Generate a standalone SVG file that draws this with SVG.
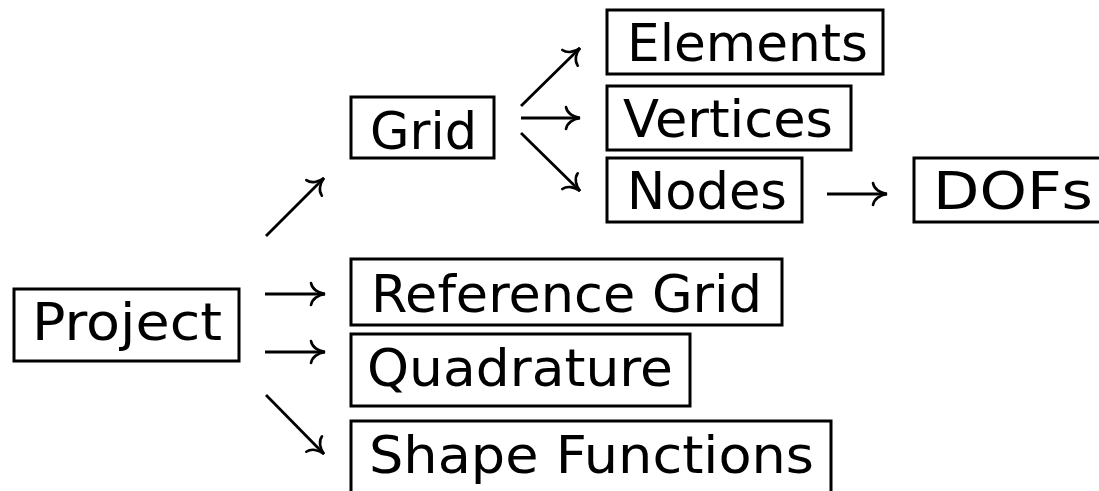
<svg xmlns="http://www.w3.org/2000/svg" width="1099" height="491" viewBox="0 0 1099 491">
<style>
  rect.box { fill: none; stroke: #000; stroke-width: 3; }
  text.lbl { font-family: "DejaVu Sans", "Liberation Sans", sans-serif; font-size: 52px; fill: #000; }
  .conn line { stroke: #000; stroke-width: 2.8; fill: none; marker-end: url(#hd); }
</style>
<defs>
  <marker id="hd" markerUnits="userSpaceOnUse" markerWidth="30" markerHeight="30" refX="0" refY="0" orient="auto" overflow="visible">
    <path d="M-14,-11 C-13,-5 -7,-1 0,0 C-7,1 -13,5 -14,11" fill="none" stroke="#000" stroke-width="2.6" stroke-linecap="round"/>
  </marker>
</defs>
<rect width="1099" height="491" fill="#fff"/>

<g id="project">
  <rect class="box" x="14" y="289" width="225" height="72"/>
  <text class="lbl" x="32" y="340" textLength="190" lengthAdjust="spacingAndGlyphs">Project</text>
</g>
<g id="grid">
  <rect class="box" x="351" y="97" width="143" height="61"/>
  <text class="lbl" x="370" y="149" textLength="107" lengthAdjust="spacingAndGlyphs">Grid</text>
</g>
<g id="elements">
  <rect class="box" x="607" y="10" width="276" height="64"/>
  <text class="lbl" x="627" y="61" textLength="241" lengthAdjust="spacingAndGlyphs">Elements</text>
</g>
<g id="vertices">
  <rect class="box" x="607" y="86" width="244" height="64"/>
  <text class="lbl" x="623" y="137" textLength="210" lengthAdjust="spacingAndGlyphs">Vertices</text>
</g>
<g id="nodes">
  <rect class="box" x="607" y="158" width="195" height="64"/>
  <text class="lbl" x="627" y="209" textLength="160" lengthAdjust="spacingAndGlyphs">Nodes</text>
</g>
<g id="dofs">
  <rect class="box" x="914" y="158" width="200" height="64"/>
  <text class="lbl" x="933" y="209" textLength="160" lengthAdjust="spacingAndGlyphs">DOFs</text>
</g>
<g id="reference-grid">
  <rect class="box" x="351" y="259" width="431" height="66"/>
  <text class="lbl" x="371" y="312" textLength="391" lengthAdjust="spacingAndGlyphs">Reference Grid</text>
</g>
<g id="quadrature">
  <rect class="box" x="351" y="334" width="339" height="72"/>
  <text class="lbl" x="367" y="386" textLength="306" lengthAdjust="spacingAndGlyphs">Quadrature</text>
</g>
<g id="shape-functions">
  <rect class="box" x="351" y="421" width="480" height="80"/>
  <text class="lbl" x="369" y="473" textLength="445" lengthAdjust="spacingAndGlyphs">Shape Functions</text>
</g>

<g id="connectors" class="conn">
  <line x1="266" y1="236" x2="324" y2="178"/>
  <line x1="265" y1="294" x2="325" y2="294"/>
  <line x1="265" y1="352" x2="325" y2="352"/>
  <line x1="266" y1="395" x2="324" y2="454"/>
  <line x1="521" y1="106" x2="580" y2="48"/>
  <line x1="521" y1="118" x2="580" y2="118"/>
  <line x1="521" y1="133" x2="580" y2="191"/>
  <line x1="827" y1="194" x2="887" y2="194"/>
</g>
</svg>
